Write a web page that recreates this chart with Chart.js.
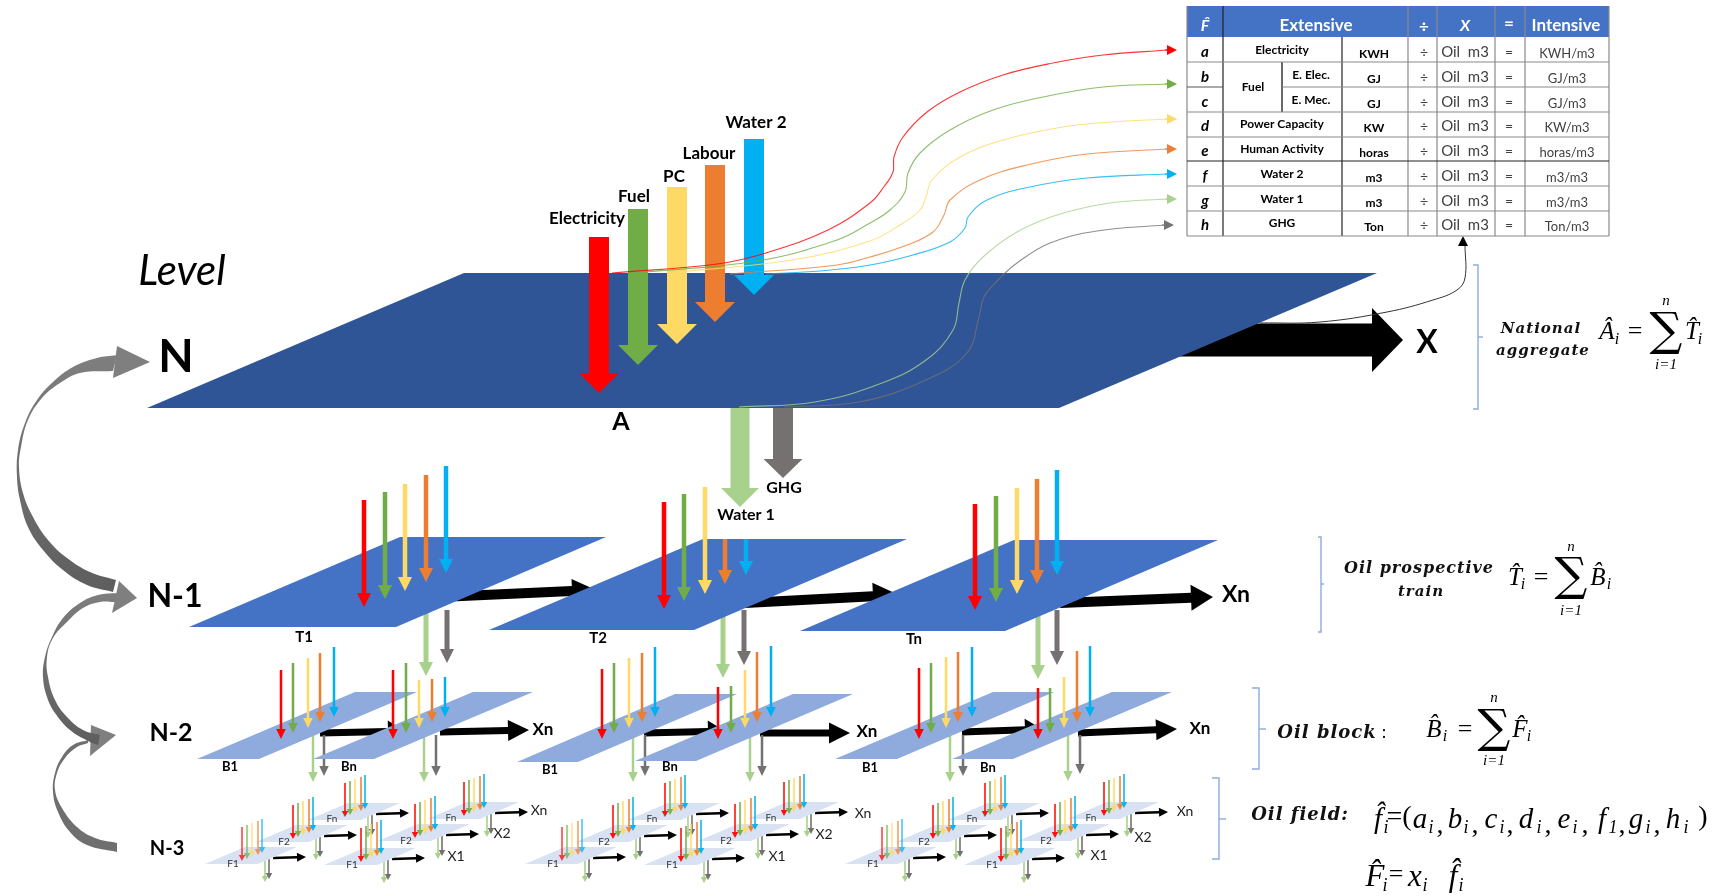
<!DOCTYPE html>
<html>
<head>
<meta charset="utf-8">
<title>Levels</title>
<script src="https://cdn.jsdelivr.net/npm/chart.js@4"></script>
<style>
  html, body { margin: 0; padding: 0; background: #fff; }
  canvas { display: block; }
</style>
</head>
<body>
<canvas id="myChart" width="1722" height="896"></canvas>
<script>
// colours of the flows: electricity, fuel, PC, labour, water 2, water 1, GHG
const flowColors = ['#FF0000', '#70AD47', '#FFD966', '#ED7D31', '#00B0F0', '#A9D18E', '#767171'];

// level N
const planeN = [[147, 408], [464, 273], [1377, 273], [1059, 408]];
const flowNames = ['Electricity', 'Fuel', 'PC', 'Labour', 'Water 2'];
const flowX = [599, 638, 677, 715, 754];
const flowTop = [237, 209, 187, 165, 139];
const flowTip = [393, 365, 344, 322, 295];

// curves from plane N to the table
const curveRed = [[612, 273], [717, 264], [766, 253], [828, 230], [870, 203], [883, 188], [893, 172], [894, 157], [903, 137], [927, 112], [960, 92], [1003, 75], [1053, 63], [1103, 55], [1168, 50]];
const curveGreen = [[632, 273], [757, 261], [837, 240], [870, 223], [890, 210], [905, 192], [908, 173], [920, 153], [950, 130], [993, 110], [1043, 97], [1103, 87], [1168, 84]];
const curveYellow = [[667, 273], [792, 260], [870, 241], [900, 225], [920, 210], [926, 197], [932, 180], [960, 157], [1003, 140], [1057, 128], [1110, 122], [1168, 119]];
const curveOrange = [[730, 274], [837, 265], [870, 257], [907, 245], [933, 232], [944, 215], [950, 200], [980, 180], [1027, 165], [1087, 154], [1168, 149]];
const curveBlue = [[766, 274], [820, 271], [870, 265], [913, 255], [950, 242], [965, 228], [968, 217], [987, 200], [1030, 187], [1087, 178], [1168, 174]];
const curveWater1 = [[739, 407], [815, 402], [882, 383], [926, 360], [953, 330], [959, 303], [965, 280], [983, 257], [1017, 232], [1057, 215], [1110, 203], [1168, 199]];
const curveGhg = [[784, 407], [859, 402], [926, 380], [967, 353], [979, 317], [984, 297], [998, 280], [1017, 263], [1050, 243], [1097, 231], [1165, 225]];
const curveX = [[1260, 323], [1320, 322], [1387, 312], [1433, 300], [1457, 290], [1465, 278], [1465, 245]];
const curveTipX = [1177, 1177, 1177, 1177, 1177, 1177, 1174];
const curveTipY = [50, 84, 119, 149, 174, 199, 225];

// level N-1
const planesT = [
  [[189, 627], [400, 537], [606, 537], [396, 627]],
  [[489, 630], [703, 539], [907, 539], [694, 630]],
  [[800, 631], [1014, 540], [1218, 540], [1005, 631]]
];
const arrowsTx = [[364, 385, 405, 426, 446], [664, 684, 705, 725, 746], [975, 996, 1017, 1037, 1057]];
const arrowsTtop = [[500, 492, 484, 475, 466], [502, 494, 487, 539, 539], [504, 496, 488, 479, 470]];
const arrowsTtip = [[607, 599, 591, 582, 573], [609, 601, 594, 584, 575], [610, 602, 594, 584, 575]];
const blackT = [[440, 597, 596, 590], [745, 603, 899, 595], [1060, 603, 1213, 597]];
const blackThead = [[24, 24], [27, 26], [26, 22]];
const downT = [[426, 676, 447, 663], [723, 678, 744, 665], [1038, 679, 1057, 665]];

// level N-2
const planesB = [
  [[197, 759], [355, 692], [417, 692], [259, 759]],
  [[313, 759], [473, 692], [533, 692], [374, 759]],
  [[517, 762], [675, 694], [737, 694], [578, 762]],
  [[635, 761], [793, 694], [853, 694], [696, 761]],
  [[835, 759], [993, 692], [1054, 692], [897, 759]],
  [[952, 759], [1112, 692], [1172, 692], [1013, 759]]
];
const arrowsBx = [
  [281, 293, 308, 320, 334], [393, 406, 419, 432, 445],
  [602, 614, 629, 642, 655], [718, 731, 745, 757, 771],
  [919, 931, 946, 958, 972], [1038, 1050, 1064, 1077, 1090]
];
const arrowsBtop = [
  [670, 663, 658, 653, 647], [670, 663, 680, 679, 677],
  [669, 663, 658, 653, 647], [687, 686, 670, 652, 646],
  [668, 663, 657, 652, 647], [688, 688, 677, 651, 646]
];
const arrowsBtip = [739, 733, 728, 722, 717];
const downB = [[313, 782, 324, 776], [424, 782, 436, 776], [633, 782, 645, 776], [750, 782, 762, 776], [950, 782, 963, 776], [1068, 781, 1080, 774]];
const blackB = [[320, 733, 405, 731], [644, 733, 725, 731], [962, 732, 1042, 729]];
const blackXn = [[440, 732, 529, 730], [760, 733, 850, 733], [1078, 733, 1177, 729]];

// level N-3: position of the red arrow tip on each small plane
const groupFdx = [0, 320, 640];
const fieldTips = [[345, 817], [464, 816], [293, 839], [415, 838], [242, 861], [361, 862]];
const fieldNames = ['Fn', 'Fn', 'F2', 'F2', 'F1', 'F1'];
const fieldPlane = [[-37, 3], [3, -14], [55, -14], [16, 3]];
const fieldArrowDx = [0, 5, 10, 16, 20];
const fieldArrowTop = [-34, -36, -38, -40, -42];
const fieldArrowTip = [0, -2, -4, -6, -8];

// grey arrows between levels, a repeated point keeps the corner sharp
const bend1 = [[117, 355], [117, 355], [97, 358], [73, 367], [53, 382], [37, 400], [25, 423], [18, 450], [17, 477], [20, 500], [28, 527], [43, 550], [63, 570], [87, 585], [113, 592], [113, 592], [116, 580], [116, 580], [90, 572], [67, 558], [48, 540], [33, 517], [23, 493], [19, 467], [21, 447], [28, 420], [42, 398], [60, 383], [80, 373], [113, 371], [113, 371]];
const bend1Head = [[117, 346], [150, 362], [113, 378]];
const bend2 = [[117, 593], [117, 593], [98, 595], [80, 603], [63, 618], [52, 637], [45, 657], [43, 677], [47, 697], [55, 713], [70, 730], [88, 741], [98, 745], [98, 745], [100, 735], [100, 735], [83, 730], [67, 717], [55, 700], [48, 677], [47, 657], [53, 638], [67, 622], [83, 608], [100, 602], [115, 602], [115, 602]];
const bend2Head = [[119, 581], [137, 598], [112, 613]];
const bend3 = [[88, 740], [88, 740], [73, 745], [62, 757], [55, 773], [53, 792], [58, 812], [70, 832], [87, 845], [117, 852], [117, 852], [117, 843], [117, 843], [95, 838], [77, 827], [62, 808], [55, 790], [57, 773], [65, 758], [77, 747], [88, 743], [88, 743]];
const bend3Head = [[91, 725], [116, 735], [90, 756]];

// brackets on the right
const brackets = [
  [[1473, 265], [1478, 265], [1478, 409], [1473, 409]],
  [[1318, 537], [1321, 537], [1321, 632], [1318, 632]],
  [[1252, 688], [1259, 688], [1259, 769], [1252, 769]],
  [[1212, 778], [1219, 778], [1219, 859], [1212, 859]]
];
const bracketTicks = [[[1478, 337], [1483, 337]], [[1321, 584], [1324, 584]], [[1259, 729], [1266, 729]], [[1219, 819], [1226, 819]]];

// table
const tableHeader = [[1187, 6], [1609, 6], [1609, 37], [1187, 37]];
const tableRowY = [62, 87, 112, 137, 161, 186, 211, 236];
const tableColX = [1187, 1223, 1342, 1408, 1437, 1495, 1525, 1609];
const rowLetters = ['a', 'b', 'c', 'd', 'e', 'f', 'g', 'h'];
const rowUnits = ['KWH', 'GJ', 'GJ', 'KW', 'horas', 'm3', 'm3', 'Ton'];
const rowIntensive = ['KWH/m3', 'GJ/m3', 'GJ/m3', 'KW/m3', 'horas/m3', 'm3/m3', 'm3/m3', 'Ton/m3'];
const rowTextY = [52, 77, 102, 126, 151, 176, 201, 225];
const rowExtensive = [['Electricity', 1282, 50], ['Fuel', 1253, 87], ['E. Elec.', 1311, 75], ['E. Mec.', 1311, 100], ['Power Capacity', 1282, 124], ['Human Activity', 1282, 149], ['Water 2', 1282, 174], ['Water 1', 1282, 199], ['GHG', 1282, 223]];

const texts = [];
function addText(list, font, color, spacing) {
  list.forEach(t => texts.push({ text: t[0], x: t[1], y: t[2], font: font, color: color || '#000', spacing: spacing || '0px' }));
}

const ds = [];
function shape(points, color, tension) {
  ds.push({ data: points.map(p => ({ x: p[0], y: p[1] })), backgroundColor: color, borderColor: color, borderWidth: 0, fill: 'shape', showLine: true, pointRadius: 0, tension: tension || 0 });
}
function curve(points, color, width, tension) {
  ds.push({ data: points.map(p => ({ x: p[0], y: p[1] })), borderColor: color, borderWidth: width, fill: false, showLine: true, pointRadius: 0, tension: tension });
}
function downArrow(x, top, tip, shaft, head, headLen, color) {
  const s = shaft / 2, h = head / 2, b = tip - headLen;
  shape([[x - s, top], [x + s, top], [x + s, b], [x + h, b], [x, tip], [x - h, b], [x - s, b]], color);
}
function sideArrow(a, shaft, head, headLen, color) {
  const len = Math.hypot(a[2] - a[0], a[3] - a[1]);
  const ux = (a[2] - a[0]) / len, uy = (a[3] - a[1]) / len;
  const bx = a[2] - ux * headLen, by = a[3] - uy * headLen;
  const off = (px, py, d) => [px - uy * d, py + ux * d];
  shape([off(a[0], a[1], shaft / 2), off(bx, by, shaft / 2), off(bx, by, head / 2), [a[2], a[3]], off(bx, by, -head / 2), off(bx, by, -shaft / 2), off(a[0], a[1], -shaft / 2)], color);
}
function shift(points, dx, dy) {
  return points.map(p => [p[0] + dx, p[1] + dy]);
}

const canvas = document.querySelector('#myChart');
const grad = (y0, y1) => {
  const g = canvas.getContext('2d').createLinearGradient(0, y0, 0, y1);
  g.addColorStop(0, '#808080');
  g.addColorStop(1, '#5E5E5E');
  return g;
};

// level N-3
groupFdx.forEach((dx) => {
  fieldTips.forEach((tip, i) => {
    const ox = tip[0] + dx, oy = tip[1];
    const alpha = i == 4 ? 'BB' : 'EE';
    sideArrow([ox + 31, oy - 3, ox + 64, oy - 4], 2.5, 9, 9, '#000');
    downArrow(ox + 23, oy - 2, oy + 21, 1.6, 6.5, 6, flowColors[5]);
    downArrow(ox + 27, oy - 2, oy + 18, 1.6, 6.5, 6, flowColors[6]);
    shape(shift(fieldPlane, ox, oy), '#D9E2F3');
    fieldArrowDx.forEach((d, k) => {
      downArrow(ox + d, oy + fieldArrowTop[k], oy + fieldArrowTip[k], 1.6, 6.5, 6, flowColors[k] + alpha);
    });
    addText([[fieldNames[i], ox - (i < 2 ? 13 : 9), oy + (i < 2 ? 2 : 3)]], '10px Lato', '#333');
  });
});

// level N-2
blackB.forEach(a => sideArrow(a, 7, 22, 17, '#000'));
blackXn.forEach(a => sideArrow(a, 7, 21, 21, '#000'));
downB.forEach(d => {
  downArrow(d[0], 735, d[1], 2.5, 9.5, 10, flowColors[5]);
  downArrow(d[2], 735, d[3], 2.5, 9.5, 10, flowColors[6]);
});
planesB.forEach(p => shape(p, '#8FAADC'));
arrowsBx.forEach((xs, g) => xs.forEach((x, k) => downArrow(x, arrowsBtop[g][k], arrowsBtip[k], 2.5, 9.5, 10, flowColors[k])));

// level N-1
blackT.forEach((a, i) => sideArrow(a, 10, blackThead[i][0], blackThead[i][1], '#000'));
downT.forEach(d => {
  downArrow(d[0], 610, d[1], 5, 14, 14, flowColors[5]);
  downArrow(d[2], 610, d[3], 5, 14, 14, flowColors[6]);
});
planesT.forEach(p => shape(p, '#4472C4'));
arrowsTx.forEach((xs, g) => xs.forEach((x, k) => downArrow(x, arrowsTtop[g][k], arrowsTtip[g][k], 4.5, 14, 14, flowColors[k])));

// level N
sideArrow([1150, 340, 1403, 340], 33, 64, 31, '#000');
shape(planeN, '#2F5597');
flowX.forEach((x, k) => downArrow(x, flowTop[k], flowTip[k], 20, 40, 20, flowColors[k]));
downArrow(740, 408, 507, 19, 38, 19, flowColors[5]);
downArrow(783, 408, 478, 20, 39, 19, flowColors[6]);

// curves and their heads
[curveRed, curveGreen, curveYellow, curveOrange, curveBlue, curveWater1, curveGhg].forEach((c, k) => {
  curve(c, flowColors[k] + 'CC', 1.1, 0.4);
  sideArrow([curveTipX[k] - 12, curveTipY[k], curveTipX[k], curveTipY[k]], 1, 10, 10, flowColors[k]);
});
curve(curveX, '#333', 1, 0.4);
shape([[1458, 246], [1463, 236], [1468, 246]], '#000');

// grey arrows between levels
shape(bend3, '#6F6F6F', 0.4);
shape(bend3Head, '#7F7F7F');
shape(bend2, grad(581, 745), 0.4);
shape(bend2Head, '#7F7F7F');
shape(bend1, grad(346, 592), 0.4);
shape(bend1Head, '#7F7F7F');

brackets.concat(bracketTicks).forEach(b => curve(b, '#8FAADC', 1.4, 0));

// table
shape(tableHeader, '#4472C4');
tableColX.forEach((x, i) => {
  const top = (i == 2) ? 37 : 6;
  curve([[x, top], [x, 236]], (i == 1 || i == 2) ? '#222' : '#8A8A8A', 1.2, 0);
});
curve([[1282, 62], [1282, 112]], '#555', 1, 0);
tableRowY.forEach((y, i) => {
  if (i == 0 || i > 1) curve([[1187, y], [1609, y]], i == 4 ? '#222' : '#8A8A8A', 1.2, 0);
});
curve([[1187, 87], [1223, 87]], '#555', 1, 0);
curve([[1282, 87], [1609, 87]], '#8A8A8A', 1.2, 0);

// texts
addText([['F\u0302', 1205, 26], ['X', 1465, 26]], 'italic bold 16px Lato', '#fff');
addText([['Extensive', 1316, 26], ['Intensive', 1566, 26]], 'bold 17px Lato', '#fff');
addText([['\u00F7', 1424, 27], ['=', 1509, 24]], 'bold 17px Lato', '#fff');
rowLetters.forEach((l, i) => {
  addText([[l, 1205, rowTextY[i]]], 'italic bold 15px Lato');
  addText([[rowUnits[i], 1374, rowTextY[i] + 2]], 'bold 12px Lato');
  addText([['\u00F7', 1424, rowTextY[i]], ['=', 1509, rowTextY[i]]], '14px Lato', '#404040');
  addText([['Oil  m3', 1465, rowTextY[i]]], '15px Lato', '#404040');
  addText([[rowIntensive[i], 1567, rowTextY[i] + 2]], '13px Lato', '#404040');
});
addText(rowExtensive, 'bold 12px Lato');

flowNames.forEach((n, i) => addText([[n, [587, 634, 674, 709, 756][i], [219, 197, 177, 154, 123][i]]], 'bold 17px Lato'));
addText([['Level', 182, 271]], 'italic 42px Lato');
addText([['N', 176, 357]], 'bold 46px Lato');
addText([['N-1', 175, 597]], 'bold 32px Lato');
addText([['N-2', 171, 733]], 'bold 25px Lato');
addText([['N-3', 167, 849]], 'bold 20px Lato');
addText([['A', 621, 422]], 'bold 25px Lato');
addText([['GHG', 784, 488], ['Water 1', 746, 515]], 'bold 16px Lato');
addText([['T1', 304, 637], ['T2', 598, 638], ['Tn', 914, 639]], 'bold 15px Lato');
addText([['X', 1427, 343]], 'bold 32px Lato');
addText([['Xn', 1236, 595]], 'bold 23px Lato');
addText([['Xn', 543, 730], ['Xn', 867, 732], ['Xn', 1200, 729]], 'bold 17px Lato');
addText([['B1', 230, 767], ['Bn', 349, 767], ['B1', 550, 770], ['Bn', 670, 767], ['B1', 870, 768], ['Bn', 988, 768]], 'bold 13px Lato');
addText([['Xn', 539, 810], ['Xn', 863, 813], ['Xn', 1185, 811], ['X2', 502, 833], ['X2', 824, 834], ['X2', 1143, 837], ['X1', 456, 856], ['X1', 777, 856], ['X1', 1099, 855]], '14px Lato', '#222');

const bi = 'italic bold 15px "DejaVu Serif"';
addText([['National', 1541, 329], ['aggregate', 1543, 351], ['train', 1421, 592]], bi, '#111', '1px');
addText([['Oil prospective', 1419, 569]], 'italic bold 16px "DejaVu Serif"', '#111', '1px');
addText([['Oil block', 1327, 733], ['Oil field:', 1300, 815]], 'italic bold 18px "DejaVu Serif"', '#111', '1px');
addText([[':', 1384, 733]], '18px "Liberation Serif"');

const mathBig = 'italic 25px "Liberation Serif"';
const mathSub = 'italic 16px "Liberation Serif"';
const mathTiny = 'italic 15px "Liberation Serif"';
addText([['A\u0302', 1607, 332], ['T\u0302', 1692, 332], ['T\u0302', 1515, 578], ['B\u0302', 1598, 578], ['B\u0302', 1434, 730], ['F\u0302', 1520, 730]], mathBig);
addText([['i', 1617, 340], ['i', 1700, 340], ['i', 1523, 585], ['i', 1609, 585], ['i', 1445, 737], ['i', 1529, 737]], mathSub);
addText([['=', 1635, 332], ['=', 1541, 578], ['=', 1465, 730]], '26px "Liberation Serif"');
addText([['\u2211', 1666, 333], ['\u2211', 1571, 578], ['\u2211', 1494, 730]], '46px "DejaVu Serif"');
addText([['n', 1666, 301], ['n', 1571, 547], ['n', 1494, 698]], mathTiny);
addText([['i=1', 1666, 365], ['i=1', 1571, 611], ['i=1', 1494, 761]], mathTiny);

addText([['f\u0302', 1378, 820], ['a', 1420, 820], ['b', 1455, 820], ['c', 1491, 820], ['d', 1526, 820], ['e', 1564, 820], ['f', 1602, 820], ['g', 1636, 820], ['h', 1673, 820]], 'italic 29px "Liberation Serif"');
addText([['=(', 1399, 818], [',', 1440, 826], [',', 1475, 826], [',', 1510, 826], [',', 1548, 826], [',', 1585, 826], [',', 1622, 826], [',', 1657, 826], [')', 1703, 818]], '28px "Liberation Serif"');
addText([['i', 1386, 828], ['i', 1431, 828], ['i', 1466, 828], ['i', 1502, 828], ['i', 1539, 828], ['i', 1575, 828], ['1', 1613, 828], ['i', 1648, 828], ['i', 1686, 828]], 'italic 18px "Liberation Serif"');
addText([['F\u0302', 1375, 878], ['x', 1415, 878], ['f\u0302', 1453, 878]], 'italic 31px "Liberation Serif"');
addText([['=', 1396, 875]], '26px "Liberation Serif"');
addText([['i', 1385, 886], ['i', 1425, 886], ['i', 1461, 886]], 'italic 18px "Liberation Serif"');

// datasets paint from the highest order down, keep the order they were added
ds.forEach((d, i) => { d.order = ds.length - i; });

const textPlugin = {
  id: 'textPlugin',
  afterDatasetsDraw(chart) {
    const ctx = chart.ctx;
    ctx.save();
    ctx.textAlign = 'center';
    ctx.textBaseline = 'middle';
    texts.forEach(t => {
      ctx.font = t.font;
      ctx.fillStyle = t.color;
      ctx.letterSpacing = t.spacing;
      ctx.fillText(t.text, chart.scales.x.getPixelForValue(t.x), chart.scales.y.getPixelForValue(t.y));
    });
    ctx.restore();
  }
};

new Chart(canvas, {
  type: 'scatter',
  data: { datasets: ds },
  plugins: [textPlugin],
  options: {
    responsive: false,
    animation: false,
    events: [],
    layout: { padding: 0 },
    plugins: { legend: { display: false }, tooltip: { enabled: false } },
    scales: {
      x: { type: 'linear', min: 0, max: 1722, display: false },
      y: { type: 'linear', min: 0, max: 896, reverse: true, display: false }
    }
  }
});
</script>
</body>
</html>
